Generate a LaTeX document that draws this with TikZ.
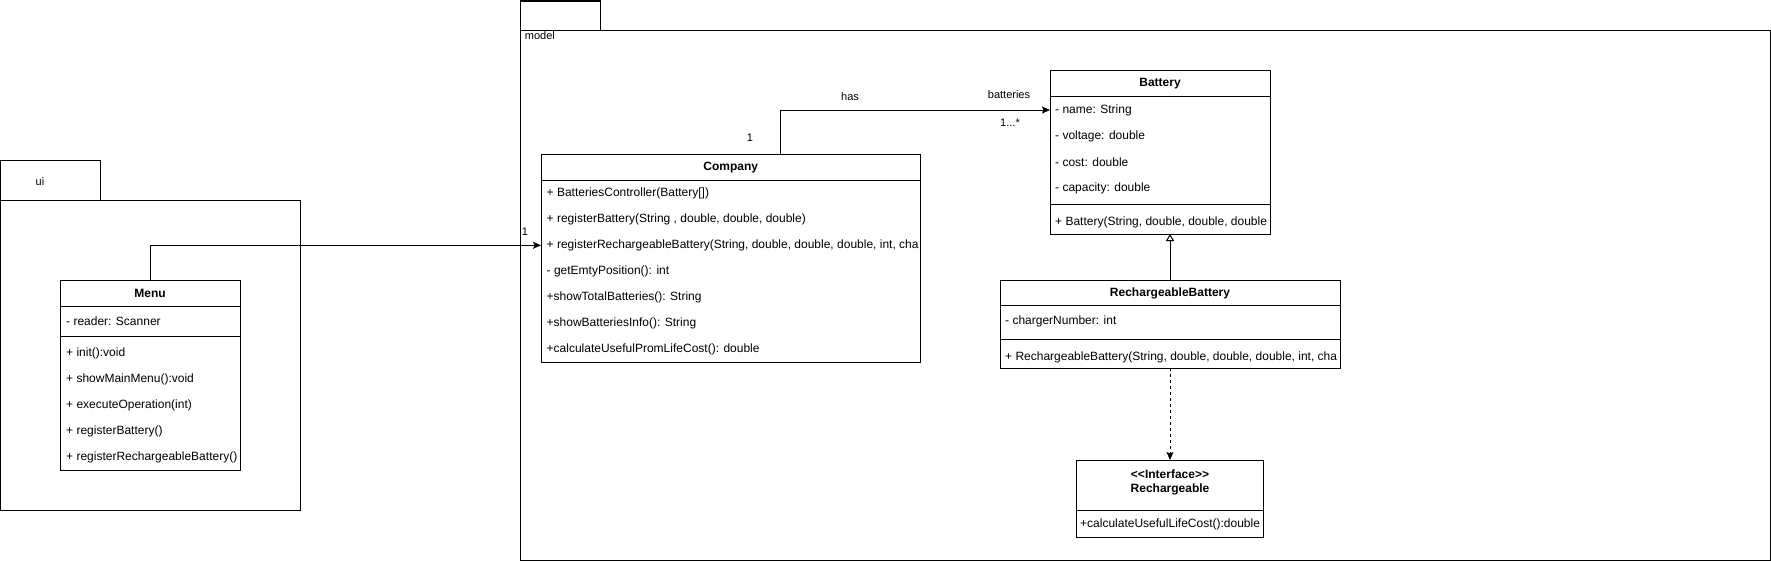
\documentclass[tikz,border=0pt]{standalone}
\usepackage{fontspec}
\setmainfont{Liberation Sans}[Ligatures=TeXOff]
\usetikzlibrary{arrows.meta,positioning}

\begin{document}
\begin{tikzpicture}[x=1pt,y=-1pt, every node/.style={font=\fontsize{12}{14}\selectfont}, box/.style={draw,line width=1pt,anchor=north west,inner sep=0,outer sep=0}, hdr/.style={font=\fontsize{12}{14}\selectfont\bfseries,align=center}, row/.style={anchor=west,inner sep=0}, lbl/.style={font=\fontsize{11}{13}\selectfont,inner sep=0}, arr/.style={-{Stealth[length=8pt,width=7pt,inset=1.5pt]},line width=1pt}, gen/.style={-{Triangle[open,length=7pt,width=8pt]},line width=1pt}]
\useasboundingbox (0,0) rectangle (1771,562);
% packages
\node[box,minimum width=100,minimum height=40] (uitab) at (0,160) {};
\node[box,minimum width=300,minimum height=310] (uipkg) at (0,200) {};
\node[lbl] (uiname) at (40,182) {ui};
\node[box,minimum width=80,minimum height=29] (modeltab) at (520.7,1) {};
\node[box,minimum width=1249.3,minimum height=530] (modelpkg) at (520.7,30) {};
\node[lbl,anchor=north west] (modelname) at ([shift={(4,1)}]modelpkg.north west) {model};
% Menu
\node[box,minimum width=180,minimum height=190] (menu) at (60,280) {};
\node[hdr] (menuhdr) at (150,293) {Menu};
\draw[line width=1pt] (60,306) -- (240,306) (60,336) -- (240,336);
\node[row] (m0) at (66,321) {- reader: Scanner};
\foreach \t [count=\i] in {{+ init():void},{+ showMainMenu():void},{+ executeOperation(int)},{+ registerBattery()},{+ registerRechargeableBattery()}}
  \node[row] (m\i) at (66,{353+26*(\i-1)}) {\t};
% Company
\node[box,minimum width=379.7,minimum height=208] (company) at (541,154.3) {};
\node[hdr] (comphdr) at (730.8,167.3) {Company};
\draw[line width=1pt] (541,180.3) -- (920.7,180.3);
\foreach \t [count=\i] in {{+ BatteriesController(Battery[])},{+ registerBattery(String , double, double, double)},{+ registerRechargeableBattery(String, double, double, double, int, cha},{- getEmtyPosition(): int},{+showTotalBatteries(): String},{+showBatteriesInfo(): String},{+calculateUsefulPromLifeCost(): double}}
  \node[row] (c\i) at (546.5,{193.3+26*(\i-1)}) {\t};
% Battery
\node[box,minimum width=220,minimum height=164] (battery) at (1050,70) {};
\node[hdr] (bathdr) at (1160,83.3) {Battery};
\draw[line width=1pt] (1050,96.7) -- (1270,96.7) (1050,204.3) -- (1270,204.3);
\foreach \t [count=\i] in {{- name: String},{- voltage: double},{- cost: double},{- capacity: double}}
  \node[row] (b\i) at (1055,{110+26*(\i-1)}) {\t};
\node[row] (b5) at (1055,222) {+ Battery(String, double, double, double};
% RechargeableBattery
\node[box,minimum width=340,minimum height=88] (rbattery) at (1000,280) {};
\node[hdr] (rbathdr) at (1170,293) {RechargeableBattery};
\draw[line width=1pt] (1000,305.7) -- (1340,305.7) (1000,339) -- (1340,339);
\node[row] (r1) at (1005,321) {- chargerNumber: int};
\node[row] (r2) at (1005,357) {+ RechargeableBattery(String, double, double, double, int, cha};
% Rechargeable
\node[box,minimum width=187,minimum height=77] (rechargeable) at (1076.5,460) {};
\node[hdr] (rechhdr) at (1170,482) {<<Interface>>\\Rechargeable};
\draw[line width=1pt] (1076.5,510) -- (1263.5,510);
\node[row] (i1) at (1080,524) {+calculateUsefulLifeCost():double};
% connectors
\draw[arr] (menu.north) |- (company.west |- c3);
\node[lbl] (onemenu) at (525,232) {1};
\draw[arr] ([xshift=49.7]company.north) |- (battery.west |- b1);
\node[lbl] (onecomp) at (750,138) {1};
\node[lbl] (has) at (850,97) {has};
\node[lbl] (batts) at (1009,95) {batteries};
\node[lbl] (many) at (1010,123) {1...*};
\draw[gen] (rbattery.north) -- (rbattery.north |- battery.south);
\draw[arr,dashed,dash pattern=on 3pt off 3pt] (rbattery.south) -- (rbattery.south |- rechargeable.north);
\end{tikzpicture}
\end{document}
